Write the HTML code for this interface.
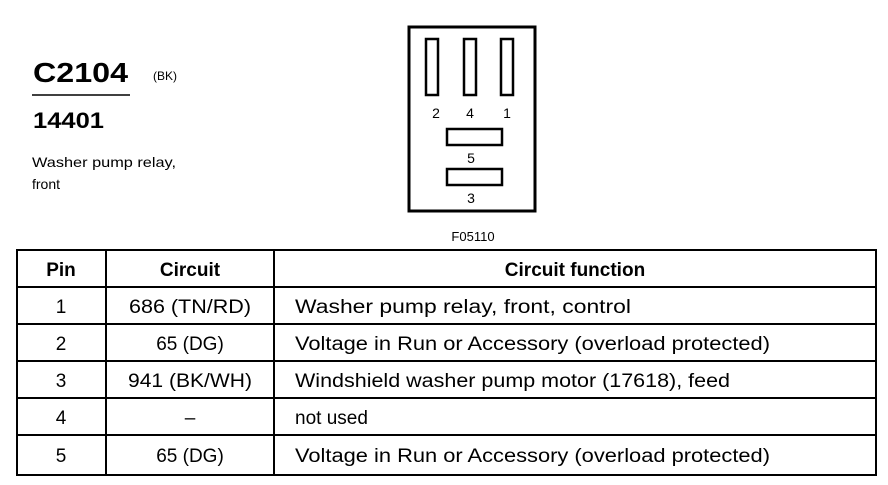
<!DOCTYPE html>
<html><head><style>body{margin:0;background:#fff}</style></head><body>
<svg width="888" height="480" xmlns="http://www.w3.org/2000/svg" font-family="Liberation Sans, Arial, sans-serif" fill="#000">
<rect x="0" y="0" width="888" height="480" fill="#fff"/>
<text x="33" y="82" font-size="28" font-weight="bold" textLength="95" lengthAdjust="spacingAndGlyphs">C2104</text>
<text x="153" y="80" font-size="12">(BK)</text>
<line x1="32" y1="95" x2="130" y2="95" stroke="#000" stroke-width="1.5"/>
<text x="33" y="128" font-size="22" font-weight="bold" textLength="71" lengthAdjust="spacingAndGlyphs">14401</text>
<text x="32" y="167" font-size="14" textLength="144" lengthAdjust="spacingAndGlyphs">Washer pump relay,</text>
<text x="32" y="189" font-size="14">front</text>
<g fill="none" stroke="#000" stroke-width="3">
<rect x="409" y="27" width="126" height="184"/>
<rect x="426" y="39" width="12" height="56" stroke-width="2.5"/>
<rect x="464" y="39" width="12" height="56" stroke-width="2.5"/>
<rect x="501" y="39" width="12" height="56" stroke-width="2.5"/>
<rect x="447" y="129" width="55" height="16" stroke-width="2.5"/>
<rect x="447" y="169" width="55" height="16" stroke-width="2.5"/>
</g>
<g font-size="14" text-anchor="middle">
<text x="436" y="118">2</text><text x="470" y="118">4</text><text x="507" y="118">1</text>
<text x="471" y="163">5</text><text x="471" y="203">3</text>
<text x="473" y="241" font-size="13">F05110</text>
</g>
<g stroke="#000" stroke-width="2" fill="none">
<rect x="17" y="250" width="859" height="225"/>
<line x1="106" y1="250" x2="106" y2="475"/>
<line x1="274" y1="250" x2="274" y2="475"/>
<line x1="17" y1="287" x2="876" y2="287"/>
<line x1="17" y1="324" x2="876" y2="324"/>
<line x1="17" y1="361" x2="876" y2="361"/>
<line x1="17" y1="398" x2="876" y2="398"/>
<line x1="17" y1="435" x2="876" y2="435"/>
</g>
<g font-size="19" text-anchor="middle" lengthAdjust="spacingAndGlyphs">
<text x="61" y="276" font-weight="bold">Pin</text>
<text x="190" y="276" font-weight="bold">Circuit</text>
<text x="575" y="276" font-weight="bold">Circuit function</text>
<text x="61" y="313">1</text><text x="190" y="313" textLength="122" lengthAdjust="spacingAndGlyphs">686 (TN/RD)</text>
<text x="61" y="350">2</text><text x="190" y="350">65 (DG)</text>
<text x="61" y="387">3</text><text x="190" y="387" textLength="124" lengthAdjust="spacingAndGlyphs">941 (BK/WH)</text>
<text x="61" y="424">4</text><text x="190" y="424">–</text>
<text x="61" y="462">5</text><text x="190" y="462">65 (DG)</text>
</g>
<g font-size="19">
<text x="295" y="313" textLength="336" lengthAdjust="spacingAndGlyphs">Washer pump relay, front, control</text>
<text x="295" y="350" textLength="475" lengthAdjust="spacingAndGlyphs">Voltage in Run or Accessory (overload protected)</text>
<text x="295" y="387" textLength="435" lengthAdjust="spacingAndGlyphs">Windshield washer pump motor (17618), feed</text>
<text x="295" y="424">not used</text>
<text x="295" y="462" textLength="475" lengthAdjust="spacingAndGlyphs">Voltage in Run or Accessory (overload protected)</text>
</g>
</svg>
</body></html>
